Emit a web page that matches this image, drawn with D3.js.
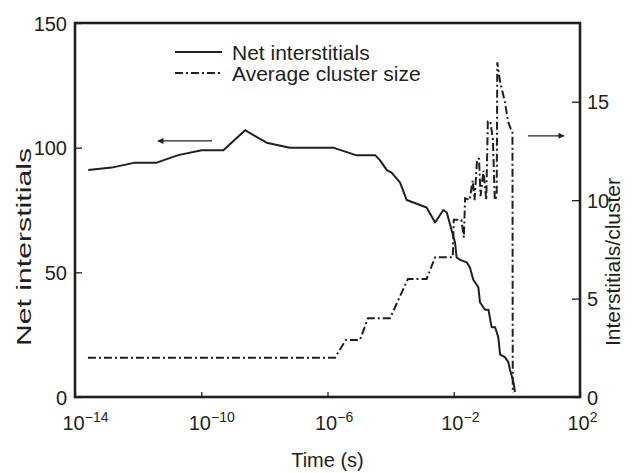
<!DOCTYPE html>
<html>
<head>
<meta charset="utf-8">
<script src="https://cdn.jsdelivr.net/npm/d3@7"></script>
<style>
  body { margin: 0; background: #fff; }
  svg { display: block; font-family: "Liberation Sans", Arial, Helvetica, sans-serif; }
</style>
</head>
<body>
<svg id="chart" width="632" height="473"></svg>
<script>
// time is kept as log10(seconds)
var netExp = [-13.58, -12.84, -12.10, -11.41, -10.73, -9.99, -9.30, -8.61, -7.93, -7.19,
  -5.82, -5.10, -4.49, -4.34, -4.12, -3.97, -3.70, -3.49, -2.86, -2.59,
  -2.33, -2.22, -2.07, -1.96, -1.91, -1.80, -1.59, -1.49, -1.38, -1.22,
  -1.17, -1.01, -0.90, -0.80, -0.69, -0.59, -0.53, -0.38, -0.27, -0.22, -0.11, -0.06];
var netCount = [91, 92, 94, 94, 97, 99, 99, 107, 102, 100,
  100, 97, 97, 95, 91, 90, 86, 79, 76, 70,
  75, 74, 67, 62, 56, 55, 54, 52, 47, 44,
  38, 35, 35, 28, 28, 24, 17, 16, 14, 11, 6, 2];

var sizeExp = [-13.59, -5.76, -5.42, -4.97, -4.72, -4.02, -3.45, -2.86, -2.59, -2.03,
  -2.00, -1.76, -1.68, -1.64, -1.50, -1.40, -1.34, -1.26, -1.20, -1.15,
  -1.06, -0.97, -0.92, -0.84, -0.76, -0.70, -0.64, -0.62, -0.53, -0.38,
  -0.28, -0.19, -0.14, -0.13];
var sizeAvg = [2, 2, 2.9, 2.9, 4, 4, 6, 6, 7.1, 7.1,
  9.0, 9.0, 8.1, 10.1, 10.0, 11.0, 10.0, 12.1, 12.1, 10.2,
  11.5, 10.0, 14.0, 14.0, 13.1, 10.0, 10.2, 17.0, 16.0, 15.0,
  14.0, 13.6, 13.5, 0.2];

var xTicks = [-14, -10, -6, -2, 2];
var leftTicks = [0, 50, 100, 150];
var rightTicks = [0, 5, 10, 15];

var legendLabels = ["Net interstitials", "Average cluster size"];
// arrows: [exp from, exp to, value]
var leftArrow = [-9.66, -11.37, 102.7];
var rightArrow = [0.35, 1.49, 13.27];

var ink = "#231f20";
var svg = d3.select("#chart");
var margin = {top: 23, right: 52, bottom: 76, left: 75};
var width = 632 - margin.left - margin.right,
    height = 473 - margin.top - margin.bottom;

var g = svg.append("g").attr("transform", "translate(" + margin.left + "," + margin.top + ")");

var x = d3.scaleLog().domain([1e-14, 1e2]).range([0, width]);
var yL = d3.scaleLinear().domain([0, 150]).range([height, 0]);
var yR = d3.scaleLinear().domain([0, 19]).range([height, 0]);

// axes
var ax = g.append("g")
    .attr("transform", "translate(0," + height + ")")
    .call(d3.axisBottom(x).tickValues(xTicks.map(function(e) { return Math.pow(10, e); }))
      .tickSize(-5).tickSizeOuter(0).tickFormat(""));
ax.selectAll(".tick text").each(function(d) {
  var t = d3.select(this)
    .attr("text-anchor", "start").attr("x", -13).attr("y", 33).attr("dy", null)
    .attr("font-size", 20).attr("fill", ink);
  t.append("tspan").text("10");
  t.append("tspan").attr("dy", -8).attr("font-size", 14)
    .text(String(Math.round(Math.log10(d))).replace("-", "\u2212"));
});

var ayl = g.append("g")
    .call(d3.axisLeft(yL).tickValues(leftTicks).tickSize(-7).tickSizeOuter(0).tickPadding(8));
var ayr = g.append("g")
    .attr("transform", "translate(" + width + ",0)")
    .call(d3.axisRight(yR).tickValues(rightTicks).tickSize(-8).tickSizeOuter(0).tickPadding(7));

[ax, ayl, ayr].forEach(function(a) {
  a.select(".domain").remove();
  a.selectAll(".tick line").attr("stroke", ink).attr("stroke-width", 1.3);
  a.selectAll(".tick text").attr("font-size", 20).attr("fill", ink);
});
ayl.selectAll(".tick text").attr("dy", "0.36em");
ayr.selectAll(".tick text").attr("dy", "0.36em");

// frame
g.append("rect")
  .attr("width", width).attr("height", height)
  .attr("fill", "none").attr("stroke", ink).attr("stroke-width", 2.6);

// series
var netLine = d3.line()
  .x(function(d, i) { return x(Math.pow(10, netExp[i])); })
  .y(function(d) { return yL(d); });
var sizeLine = d3.line()
  .x(function(d, i) { return x(Math.pow(10, sizeExp[i])); })
  .y(function(d) { return yR(d); });

g.append("path").datum(sizeAvg)
  .attr("fill", "none").attr("stroke", ink).attr("stroke-width", 2)
  .attr("stroke-dasharray", "8,3,2,3")
  .attr("d", sizeLine);

g.append("path").datum(netCount)
  .attr("fill", "none").attr("stroke", ink).attr("stroke-width", 2)
  .attr("stroke-linejoin", "round")
  .attr("d", netLine);

// arrows
svg.append("defs").append("marker")
  .attr("id", "head").attr("viewBox", "0 0 10 10")
  .attr("refX", 9).attr("refY", 5)
  .attr("markerWidth", 9).attr("markerHeight", 6)
  .attr("markerUnits", "userSpaceOnUse")
  .attr("orient", "auto")
  .append("path").attr("d", "M0,0L10,5L0,10Z").attr("fill", ink);

g.append("line")
  .attr("x1", x(Math.pow(10, leftArrow[0]))).attr("x2", x(Math.pow(10, leftArrow[1])))
  .attr("y1", yL(leftArrow[2])).attr("y2", yL(leftArrow[2]))
  .attr("stroke", ink).attr("stroke-width", 1.2).attr("marker-end", "url(#head)");
g.append("line")
  .attr("x1", x(Math.pow(10, rightArrow[0]))).attr("x2", x(Math.pow(10, rightArrow[1])))
  .attr("y1", yR(rightArrow[2])).attr("y2", yR(rightArrow[2]))
  .attr("stroke", ink).attr("stroke-width", 1.2).attr("marker-end", "url(#head)");

// legend
var leg = svg.append("g").attr("transform", "translate(175,52)");
legendLabels.forEach(function(label, i) {
  var row = leg.append("g").attr("transform", "translate(0," + (i * 21) + ")");
  row.append("line").attr("x1", 0).attr("x2", 47).attr("y1", 0).attr("y2", 0)
    .attr("stroke", ink).attr("stroke-width", 2)
    .attr("stroke-dasharray", i ? "8,3,2,3" : null);
  row.append("text").attr("x", 57).attr("y", 7.5)
    .attr("font-size", 21).attr("fill", ink).text(label);
});

// axis titles
svg.append("text")
  .attr("text-anchor", "middle").attr("font-size", 20).attr("fill", ink)
  .attr("x", margin.left + width / 2).attr("y", 467)
  .text("Time (s)");

svg.append("text")
  .attr("transform", "translate(31,247) rotate(-90)")
  .attr("text-anchor", "middle").attr("font-size", 20).attr("fill", ink)
  .attr("textLength", 198).attr("lengthAdjust", "spacingAndGlyphs")
  .text("Net interstitials");

svg.append("text")
  .attr("transform", "translate(620,262) rotate(-90)")
  .attr("text-anchor", "middle").attr("font-size", 21).attr("fill", ink)
  .text("Interstitials/cluster");
</script>
</body>
</html>
